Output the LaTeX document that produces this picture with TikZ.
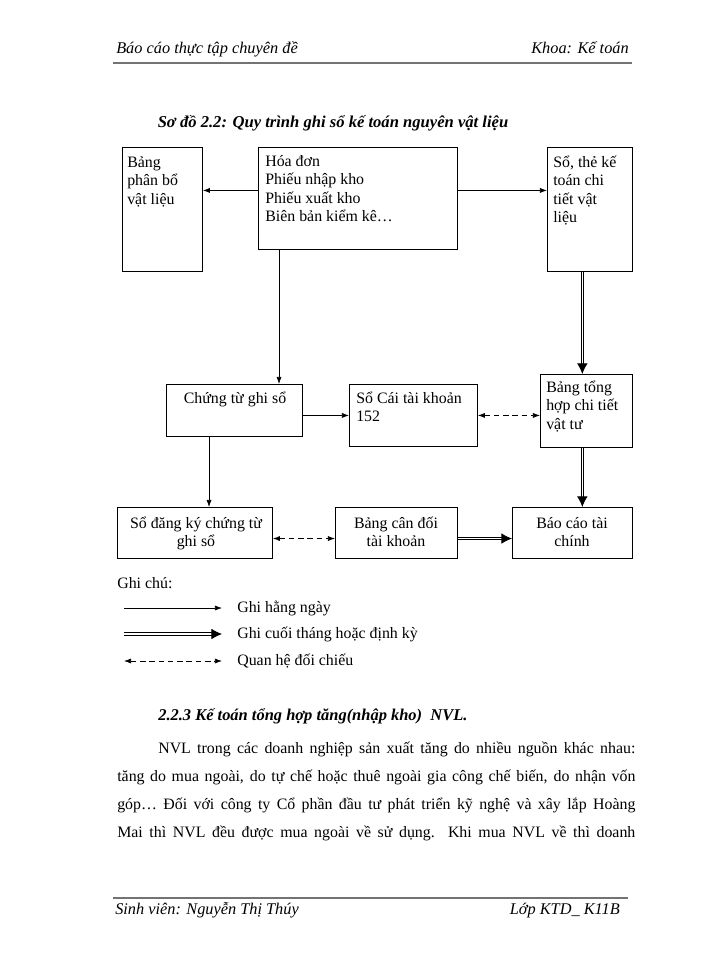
\documentclass[tikz,border=0pt]{standalone}
\usepackage{fontspec}
\setmainfont{Liberation Serif}
\usetikzlibrary{arrows.meta,calc}

\tikzset{
  box/.style={draw, line width=0.6pt, anchor=north west, inner sep=0pt},
  lt/.style={anchor=base west, align=left, inner sep=0pt, font=\fontsize{11.3}{13.1}\selectfont},
  ct/.style={anchor=base, align=center, inner sep=0pt, font=\fontsize{11.3}{13.1}\selectfont},
  plain/.style={anchor=base west, inner sep=0pt, font=\fontsize{11.3}{13.1}\selectfont},
  daily/.style={line width=0.5pt, -{Latex[length=5pt,width=3.6pt]}},
  period/.style={double, line width=0.6pt, double distance=1pt, -{Latex[length=7.5pt,width=7.5pt]}},
  cmp/.style={line width=0.5pt, dash pattern=on 4pt off 2.6pt, {Latex[length=5pt,width=3.6pt]}-{Latex[length=5pt,width=3.6pt]}},
  rule/.style={black!55, line width=1.6pt}
}

\begin{document}
\begin{tikzpicture}[x=0.025cm, y=-0.025cm]
% Page size in pixels
\useasboundingbox (0,0) rectangle (700,960);

% Header
\node[plain, font=\fontsize{11.6}{13}\selectfont\itshape] (head-l) at (116,53) {Báo cáo thực tập chuyên đề};
\node[plain, anchor=base east, font=\fontsize{11.6}{13}\selectfont\itshape] (head-r) at (629,53) {Khoa: Kế toán};
\draw[rule] (113,63) -- (632,63);

\node[plain, anchor=base, font=\fontsize{11.8}{13.1}\selectfont\bfseries\itshape] (title) at (333,127) {Sơ đồ 2.2: Quy trình ghi sổ kế toán nguyên vật liệu};

% Draw the boxes
\node[box, minimum width=2cm, minimum height=3.1cm] (alloc) at (122,147) {};
\node[box, minimum width=4.975cm, minimum height=2.55cm] (docs) at (258,147) {};
\node[box, minimum width=2.125cm, minimum height=3.1cm] (detail) at (547,147) {};
\node[box, minimum width=3.4cm, minimum height=1.3cm] (vouch) at (166,384) {};
\node[box, minimum width=3.2cm, minimum height=1.55cm] (ledger) at (349,384) {};
\node[box, minimum width=2.3cm, minimum height=1.825cm] (summ) at (540,374) {};
\node[box, minimum width=3.875cm, minimum height=1.275cm] (reg) at (117,507) {};
\node[box, minimum width=3.05cm, minimum height=1.275cm] (bal) at (335,507) {};
\node[box, minimum width=3.0cm, minimum height=1.275cm] (fin) at (512,507) {};

% Insert the texts (placed by the baseline of their last line)
\node[lt] (alloc-t) at (127,204) {Bảng\\phân bổ\\vật liệu};
\node[lt] (docs-t) at (265,221.5) {Hóa đơn\\Phiếu nhập kho\\Phiếu xuất kho\\Biên bản kiểm kê…};
\node[lt] (detail-t) at (553,222.5) {Sổ, thẻ kế\\toán chi\\tiết vật\\liệu};
\node[ct] (vouch-t) at (235,403) {Chứng từ ghi sổ};
\node[lt] (ledger-t) at (356,421.5) {Sổ Cái tài khoản\\152};
\node[lt] (summ-t) at (546,429) {Bảng tổng\\hợp chi tiết\\vật tư};
\node[ct] (reg-t) at (196,546.5) {Sổ đăng ký chứng từ\\ghi sổ};
\node[ct] (bal-t) at (396,546.5) {Bảng cân đối\\tài khoản};
\node[ct] (fin-t) at (572,546.5) {Báo cáo tài\\chính};

% Arrows
\draw[daily] ([yshift=0.2cm]docs.west) -- ([yshift=0.2cm]docs.west -| alloc.east);
\draw[daily] ([yshift=0.2cm]docs.east) -- ([yshift=0.2cm]docs.east -| detail.west);
\draw[daily] ([xshift=0.525cm]docs.south west) -- ([xshift=0.525cm]docs.south west |- vouch.north);
\draw[daily] (vouch.east |- ledger.west) -- (ledger.west);
\draw[cmp] (ledger.east) -- (ledger.east -| summ.west);
\draw[daily] ([xshift=1.075cm]vouch.south west) -- ([xshift=1.075cm]vouch.south west |- reg.north);
\draw[cmp] ([yshift=-0.14cm]reg.east) -- ([yshift=-0.14cm]reg.east -| bal.west);
\draw[period] ([yshift=-0.14cm]bal.east) -- ([yshift=-0.14cm]bal.east -| fin.west);
\draw[period] ([xshift=-0.19cm]detail.south) -- ([xshift=-0.19cm]detail.south |- summ.north);
\draw[period] ([xshift=-0.19cm]detail.south |- summ.south) -- ([xshift=-0.19cm]detail.south |- fin.north);

% Legend
\node[plain] (note) at (117,588) {Ghi chú:};
\coordinate (k1a) at (124,608); \coordinate (k1b) at (222,608);
\coordinate (k2a) at (124,634); \coordinate (k2b) at (222,634);
\coordinate (k3a) at (124,661); \coordinate (k3b) at (222,661);
\draw[daily] (k1a) -- (k1b);
\draw[period] (k2a) -- (k2b);
\draw[cmp] (k3a) -- (k3b);
\node[plain] (k1) at (237,612) {Ghi hằng ngày};
\node[plain] (k2) at (237,638) {Ghi cuối tháng hoặc định kỳ};
\node[plain] (k3) at (237,665) {Quan hệ đối chiếu};

% Text below
\node[plain, font=\fontsize{11.7}{13.1}\selectfont\bfseries\itshape] (sec) at (158,720) {2.2.3 Kế toán tổng hợp tăng(nhập kho)\ \ NVL.};
\node[plain] (p1) at (158,753) {\makebox[11.925cm][s]{NVL trong các doanh nghiệp sản xuất tăng do nhiều nguồn khác nhau:}};
\node[plain] (p2) at (117,781) {\makebox[12.95cm][s]{tăng do mua ngoài, do tự chế hoặc thuê ngoài gia công chế biến, do nhận vốn}};
\node[plain] (p3) at (117,809) {\makebox[12.95cm][s]{góp… Đối với công ty Cổ phần đầu tư phát triển kỹ nghệ và xây lắp Hoàng}};
\node[plain] (p4) at (117,837) {\makebox[12.95cm][s]{Mai thì NVL đều được mua ngoài về sử dụng. Khi mua NVL về thì doanh}};

% Footer
\draw[rule] (113,898) -- (628,898);
\node[plain, font=\fontsize{11.6}{13}\selectfont\itshape] (foot-l) at (115,914) {Sinh viên: Nguyễn Thị Thúy};
\node[plain, anchor=base east, font=\fontsize{11.6}{13}\selectfont\itshape] (foot-r) at (620,914) {Lớp KTD\_ K11B};
\end{tikzpicture}
\end{document}
